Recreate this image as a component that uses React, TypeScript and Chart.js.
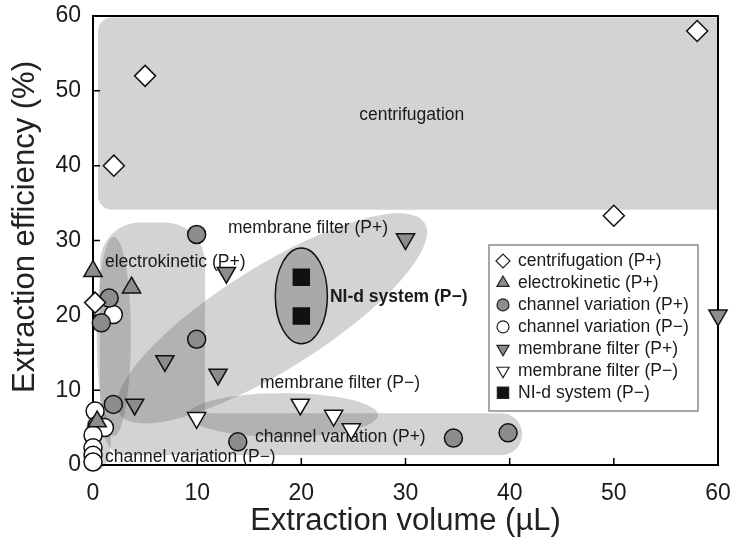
import { useEffect, useRef } from "react";
import { Chart, registerables } from "chart.js";
import { drawPoint } from "chart.js/helpers";

Chart.register(...registerables);

const FONT = '"Liberation Sans", Arial, sans-serif';
const GRAY = "#8c8c8c";
const SHADE = "rgba(80, 80, 80, 0.25)";

// values (x = µL, y = %)
const centrifugationX = [58, 5, 2, 50, 0.2];
const centrifugationY = [58, 52, 40, 33.3, 21.7];

const electrokineticX = [0, 3.7, 0.4];
const electrokineticY = [25.9, 23.7, 5.8];

const channelPlusX = [1.55, 0.8, 9.95, 9.95, 1.95, 13.9, 34.6, 39.85];
const channelPlusY = [22.3, 19.0, 30.8, 16.8, 8.1, 3.1, 3.6, 4.3];

const channelMinusX = [1.95, 0.2, 0.4, 1.1, 0, 0, 0, 0];
const channelMinusY = [20.1, 7.2, 5.3, 5.0, 4.0, 2.3, 1.3, 0.4];

const membranePlusX = [30, 12.8, 6.9, 12, 4, 60];
const membranePlusY = [30.2, 25.7, 13.9, 12.1, 8.1, 20];

const membraneMinusX = [9.95, 19.9, 23.1, 24.8];
const membraneMinusY = [6.3, 8.1, 6.6, 4.8];

const nidX = [20, 20];
const nidY = [25.1, 19.9];

const seriesLabels = [
  "centrifugation (P+)",
  "electrokinetic (P+)",
  "channel variation (P+)",
  "channel variation (P\u2212)",
  "membrane filter (P+)",
  "membrane filter (P\u2212)",
  "NI-d system (P\u2212)",
];

const yTitle = "Extraction efficiency (%)";
const xTitle = "Extraction volume (\u00b5L)";

const pts = (xs: number[], ys: number[]) => xs.map((x, i) => ({ x, y: ys[i] }));

// group labels for the shaded regions
const annotations = [
  { text: "centrifugation", x: 30.6, y: 46.7, align: "center", bold: false },
  { text: "membrane filter (P+)", x: 12.96, y: 31.6, align: "left", bold: false },
  { text: "electrokinetic (P+)", x: 1.15, y: 27.1, align: "left", bold: false },
  { text: "NI-d system (P\u2212)", x: 22.75, y: 22.45, align: "left", bold: true },
  { text: "membrane filter (P\u2212)", x: 16.03, y: 10.9, align: "left", bold: false },
  { text: "channel variation (P+)", x: 15.55, y: 3.78, align: "left", bold: false },
  { text: "channel variation (P\u2212)", x: 1.15, y: 1.03, align: "left", bold: false },
];

const regionsPlugin = {
  id: "regions",
  beforeDraw(chart: any) {
    const { ctx, chartArea: a, scales } = chart;
    const px = (v: number) => scales.x.getPixelForValue(v);
    const py = (v: number) => scales.y.getPixelForValue(v);
    ctx.save();
    ctx.fillStyle = SHADE;

    // centrifugation box, cut by right axis
    ctx.save();
    ctx.beginPath();
    ctx.rect(0, 0, a.right, chart.height);
    ctx.clip();
    ctx.beginPath();
    ctx.roundRect(px(0.48), py(59.8), a.right + 20 - px(0.48), py(34.1) - py(59.8), 14);
    ctx.fill();
    ctx.restore();

    // channel variation (P+): L shape
    ctx.beginPath();
    ctx.roundRect(px(0.67), py(32.4), px(10.75) - px(0.67), py(1.33) - py(32.4), 40);
    ctx.roundRect(px(1.15), py(6.93), px(41.2) - px(1.15), py(1.33) - py(6.93), 21);
    ctx.fill();

    // electrokinetic
    ctx.beginPath();
    ctx.ellipse(px(2.0), py(17.2), px(1.63) - px(0), py(0) - py(13.3), 0, 0, Math.PI * 2);
    ctx.fill();

    // membrane filter (P+), tilted
    ctx.beginPath();
    ctx.ellipse(px(17.18), py(19.6), 180, 52, (-32 * Math.PI) / 180, 0, Math.PI * 2);
    ctx.fill();

    // membrane filter (P-)
    ctx.beginPath();
    ctx.ellipse(px(18.24), py(6.67), px(9.12) - px(0), py(0) - py(2.93), 0, 0, Math.PI * 2);
    ctx.fill();

    // channel variation (P-)
    ctx.beginPath();
    ctx.ellipse(px(0.48), py(3.47), px(1.25) - px(0), py(0) - py(4.13), 0, 0, Math.PI * 2);
    ctx.fill();

    // NI-d system
    ctx.beginPath();
    ctx.ellipse(px(20), py(22.6), px(2.5) - px(0), py(0) - py(6.4), 0, 0, Math.PI * 2);
    ctx.fillStyle = "#a9a9a9";
    ctx.fill();
    ctx.lineWidth = 1.5;
    ctx.strokeStyle = "#111";
    ctx.stroke();
    ctx.restore();
  },
  beforeDatasetsDraw(chart: any) {
    const { ctx, chartArea: a, scales } = chart;
    const px = (v: number) => scales.x.getPixelForValue(v);
    const py = (v: number) => scales.y.getPixelForValue(v);
    ctx.save();
    // frame top/right
    ctx.strokeStyle = "#000";
    ctx.lineWidth = 2;
    ctx.beginPath();
    ctx.moveTo(a.left - 1, a.top);
    ctx.lineTo(a.right, a.top);
    ctx.lineTo(a.right, a.bottom + 1);
    ctx.stroke();
    // inward ticks
    ctx.lineWidth = 1.5;
    ctx.beginPath();
    for (let v = 10; v < 60; v += 10) {
      ctx.moveTo(px(v), a.bottom);
      ctx.lineTo(px(v), a.bottom - 7);
      ctx.moveTo(a.left, py(v));
      ctx.lineTo(a.left + 7, py(v));
    }
    ctx.stroke();
    // group labels
    ctx.fillStyle = "#1a1a1a";
    ctx.textBaseline = "middle";
    annotations.forEach((t) => {
      ctx.font = `${t.bold ? "bold " : ""}17.5px ${FONT}`;
      ctx.textAlign = t.align;
      ctx.fillText(t.text, px(t.x), py(t.y));
    });
    // y title (sits a bit above the axis middle in the original)
    ctx.translate(25, a.top + 211);
    ctx.rotate(-Math.PI / 2);
    ctx.font = `31px ${FONT}`;
    ctx.textAlign = "center";
    ctx.fillStyle = "#222";
    ctx.fillText(yTitle, 0, 0);
    ctx.restore();
  },
  afterDatasetsDraw(chart: any) {
    const { ctx, chartArea: a } = chart;
    const left = a.right - 229;
    const top = a.top + 229;
    ctx.save();
    ctx.fillStyle = "#fff";
    ctx.fillRect(left, top, 209, 166);
    ctx.strokeStyle = "#8a8a8a";
    ctx.lineWidth = 1.5;
    ctx.strokeRect(left, top, 209, 166);
    ctx.font = `17.5px ${FONT}`;
    ctx.textBaseline = "middle";
    ctx.textAlign = "left";
    chart.data.datasets.forEach((ds: any, i: number) => {
      const cy = top + 16 + i * 21.95;
      ctx.fillStyle = ds.pointBackgroundColor;
      ctx.strokeStyle = "#222";
      ctx.lineWidth = 1.2;
      drawPoint(
        ctx,
        { pointStyle: ds.pointStyle, rotation: ds.pointRotation || 0, radius: ds.legendRadius, borderWidth: 1.2 },
        left + 14,
        cy
      );
      ctx.fillStyle = "#1a1a1a";
      ctx.fillText(ds.label, left + 29, cy);
    });
    ctx.restore();
  },
};

export default function App() {
  const canvasEl: any = useRef(null);

  useEffect(() => {
    const ctx = canvasEl.current.getContext("2d");
    const base = { borderColor: "#111", pointBorderWidth: 1.5, showLine: false, clip: false as any };
    const data = {
      datasets: [
        { ...base, label: seriesLabels[0], data: pts(centrifugationX, centrifugationY), pointStyle: "rectRot", pointRadius: 10.5, legendRadius: 7, pointBackgroundColor: "#fff" },
        { ...base, label: seriesLabels[1], data: pts(electrokineticX, electrokineticY), pointStyle: "triangle", pointRadius: 10.5, legendRadius: 7, pointBackgroundColor: GRAY },
        { ...base, label: seriesLabels[2], data: pts(channelPlusX, channelPlusY), pointStyle: "circle", pointRadius: 9, legendRadius: 6, pointBackgroundColor: GRAY },
        { ...base, label: seriesLabels[3], data: pts(channelMinusX, channelMinusY), pointStyle: "circle", pointRadius: 9, legendRadius: 6, pointBackgroundColor: "#fff" },
        { ...base, label: seriesLabels[4], data: pts(membranePlusX, membranePlusY), pointStyle: "triangle", pointRotation: 180, pointRadius: 10.5, legendRadius: 7, pointBackgroundColor: GRAY },
        { ...base, label: seriesLabels[5], data: pts(membraneMinusX, membraneMinusY), pointStyle: "triangle", pointRotation: 180, pointRadius: 10.5, legendRadius: 7, pointBackgroundColor: "#fff" },
        { ...base, label: seriesLabels[6], data: pts(nidX, nidY), pointStyle: "rect", pointRadius: 11.3, legendRadius: 8, pointBackgroundColor: "#111" },
      ],
    };

    const tickFont = { family: FONT, size: 23 };
    const titleFont = { family: FONT, size: 31 };
    // fixed plot box: no label overflow padding
    const noPad = (s: any) => {
      s.paddingTop = 0;
      s.paddingBottom = 0;
      s.paddingLeft = 0;
      s.paddingRight = 0;
    };

    const config = {
      type: "scatter",
      data,
      options: {
        animation: false,
        responsive: false,
        layout: { autoPadding: false, padding: { left: 0, top: 16, right: 20, bottom: 0 } },
        plugins: { legend: { display: false }, tooltip: { enabled: false } },
        scales: {
          x: {
            type: "linear",
            min: 0,
            max: 60,
            ticks: { stepSize: 10, padding: 15, color: "#1a1a1a", font: tickFont },
            grid: { display: false, drawTicks: false },
            border: { color: "#000", width: 2 },
            title: { display: true, text: xTitle, color: "#222", font: titleFont, padding: { top: 0, bottom: 6 } },
            afterFit: (s: any) => {
              s.height = 81;
              noPad(s);
            },
          },
          y: {
            type: "linear",
            min: 0,
            max: 60,
            ticks: { stepSize: 10, padding: 12, color: "#1a1a1a", font: tickFont },
            grid: { display: false, drawTicks: false },
            border: { color: "#000", width: 2 },
            afterFit: (s: any) => {
              s.width = 93;
              noPad(s);
            },
          },
        },
      },
      plugins: [regionsPlugin],
    };

    const chart = new Chart(ctx, config as any);
    return () => {
      chart.destroy();
    };
  }, []);

  return (
    <div style={{ position: "absolute", left: 0, top: 0, width: 738, height: 546, background: "#fff" }}>
      <canvas ref={canvasEl} width={738} height={546} />
    </div>
  );
}
